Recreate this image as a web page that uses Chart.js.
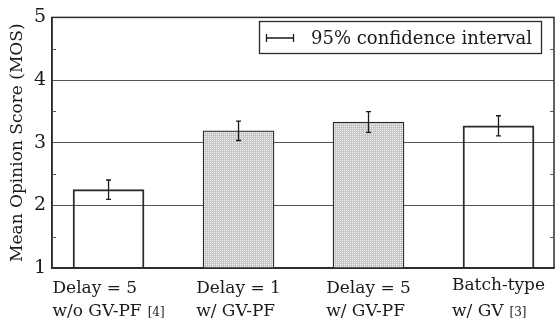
<!DOCTYPE html>
<html>
<head>
<meta charset="utf-8">
<script src="https://cdn.jsdelivr.net/npm/chart.js@4"></script>
<style>
  html, body { margin: 0; padding: 0; background: #fff; }
  #wrap { width: 558px; height: 321px; }
</style>
</head>
<body>
<div id="wrap"><canvas id="mos"></canvas></div>
<script>
// Datos
const labelLine1 = ['Delay = 5', 'Delay = 1', 'Delay = 5', 'Batch-type'];
const labelLine2 = ['w/o GV-PF', 'w/ GV-PF', 'w/ GV-PF', 'w/ GV'];
const labelRefs = ['[4]', '', '', '[3]'];
const mosValues = [2.25, 3.19, 3.33, 3.27];
const ciHalf = [0.155, 0.155, 0.165, 0.16];
const hatched = [false, true, true, false];
const yTicks = [1, 2, 3, 4, 5];
const minorTicks = [1.5, 2.5, 3.5, 4.5];

const FONT = '"DejaVu Serif", serif';
const INK = '#2b2b2b';

// Patron de puntos gris para las barras sombreadas
function dotPattern() {
    const c = document.createElement('canvas');
    c.width = 2; c.height = 2;
    const g = c.getContext('2d');
    g.fillStyle = '#c6c6c6';
    g.fillRect(0, 0, 2, 2);
    g.fillStyle = '#f4f4f4';
    g.fillRect(0, 0, 1, 1);
    return g.createPattern(c, 'repeat');
}
const pattern = dotPattern();

// Barras de error, marcas menores, marco, leyenda y etiquetas del eje x
const extras = {
    id: 'extras',
    afterDatasetsDraw(chart) {
        const ctx = chart.ctx;
        const x = chart.scales.x, y = chart.scales.y;
        ctx.save();
        ctx.strokeStyle = '#1a1a1a';
        ctx.lineWidth = 1.3;
        mosValues.forEach((v, i) => {
            const px = x.getPixelForValue(i);
            const top = y.getPixelForValue(v + ciHalf[i]);
            const bot = y.getPixelForValue(v - ciHalf[i]);
            ctx.beginPath();
            ctx.moveTo(px, top); ctx.lineTo(px, bot);
            ctx.moveTo(px - 2.5, top); ctx.lineTo(px + 2.5, top);
            ctx.moveTo(px - 2.5, bot); ctx.lineTo(px + 2.5, bot);
            ctx.stroke();
        });
        ctx.restore();
    },
    afterDraw(chart) {
        const ctx = chart.ctx;
        const a = chart.chartArea;
        const x = chart.scales.x, y = chart.scales.y;
        ctx.save();
        // marco completo
        ctx.strokeStyle = INK;
        ctx.lineWidth = 1.5;
        ctx.strokeRect(a.left, a.top, a.right - a.left, a.bottom - a.top);
        // marcas menores a ambos lados
        ctx.strokeStyle = '#555';
        ctx.lineWidth = 1;
        minorTicks.forEach(t => {
            const py = Math.round(y.getPixelForValue(t)) + 0.5;
            ctx.beginPath();
            ctx.moveTo(a.left, py); ctx.lineTo(a.left + 4, py);
            ctx.moveTo(a.right, py); ctx.lineTo(a.right - 4, py);
            ctx.stroke();
        });
        // leyenda
        const bx = 259, by = 21, bw = 282, bh = 32;
        ctx.fillStyle = '#fff';
        ctx.fillRect(bx, by, bw, bh);
        ctx.strokeStyle = INK;
        ctx.lineWidth = 1.3;
        ctx.strokeRect(bx + 0.5, by + 0.5, bw, bh);
        ctx.strokeStyle = '#1a1a1a';
        ctx.beginPath();
        ctx.moveTo(266, 38); ctx.lineTo(294, 38);
        ctx.moveTo(266.5, 34); ctx.lineTo(266.5, 42);
        ctx.moveTo(293.5, 34); ctx.lineTo(293.5, 42);
        ctx.stroke();
        ctx.fillStyle = '#1a1a1a';
        ctx.font = '18px ' + FONT;
        ctx.textBaseline = 'alphabetic';
        ctx.textAlign = 'left';
        ctx.fillText('95% confidence interval', 311, 44);
        // etiquetas del eje x (dos lineas, referencia en letra pequena)
        labelLine1.forEach((l1, i) => {
            const cx = x.getPixelForValue(i);
            ctx.font = '17px ' + FONT;
            const w1 = ctx.measureText(l1).width;
            const w2a = ctx.measureText(labelLine2[i]).width;
            let w2 = w2a;
            if (labelRefs[i]) {
                ctx.font = '12px ' + FONT;
                w2 += 6 + ctx.measureText(labelRefs[i]).width;
            }
            const left = cx - Math.max(w1, w2) / 2;
            ctx.font = '17px ' + FONT;
            ctx.fillText(l1, left, i === 3 ? 290 : 293);
            ctx.fillText(labelLine2[i], left, 316);
            if (labelRefs[i]) {
                ctx.font = '12px ' + FONT;
                ctx.fillText(labelRefs[i], left + w2a + 6, 316);
            }
        });
        ctx.restore();
    }
};

new Chart(document.getElementById('mos'), {
    type: 'bar',
    data: {
        datasets: [{
            data: mosValues.map((v, i) => ({ x: i, y: v })),
            backgroundColor: hatched.map(h => h ? pattern : 'rgba(0,0,0,0)'),
            borderColor: INK,
            borderWidth: 1.3,
            borderSkipped: false,
            barThickness: 71
        }]
    },
    plugins: [extras],
    options: {
        responsive: true,
        maintainAspectRatio: false,
        animation: false,
        layout: { padding: { top: 13, right: 4, left: 0, bottom: 0 } },
        plugins: {
            legend: { display: false },
            tooltip: { enabled: false }
        },
        scales: {
            x: {
                type: 'linear',
                offset: false,
                min: -0.435,
                max: 3.427,
                ticks: { display: false },
                grid: { display: false, drawTicks: false },
                border: { display: true, color: INK, width: 1.5 },
                afterFit: s => { s.height = 53; }
            },
            y: {
                min: 1,
                max: 5,
                z: 1,
                afterBuildTicks: s => { s.ticks = yTicks.map(v => ({ value: v })); },
                afterFit: s => { s.width = 52; },
                ticks: {
                    color: '#1a1a1a',
                    padding: 6,
                    font: { family: FONT, size: 19 }
                },
                grid: { color: '#555', lineWidth: 1, drawTicks: false },
                border: { display: true, color: INK, width: 1.5 },
                title: {
                    display: true,
                    text: 'Mean Opinion Score (MOS)',
                    color: '#1a1a1a',
                    font: { family: FONT, size: 17 },
                    padding: { top: 7, bottom: 0 }
                }
            }
        }
    }
});
</script>
</body>
</html>
